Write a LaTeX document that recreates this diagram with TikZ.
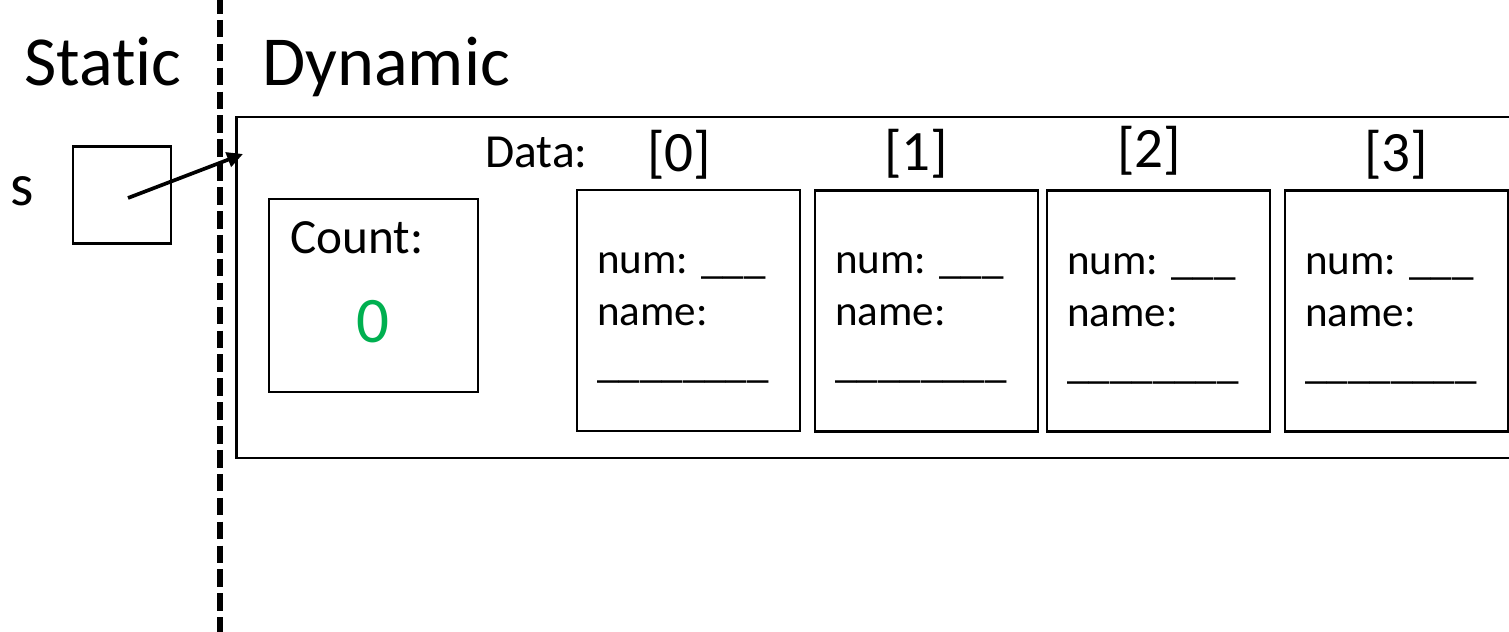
\documentclass[tikz,border=0pt]{standalone}
\usepackage{fontspec}
\setmainfont{Carlito}[Ligatures=NoCommon]
\usetikzlibrary{arrows.meta}

\definecolor{cntgreen}{HTML}{00B050}

\tikzset{
  box/.style={draw, line width=1.5pt, inner sep=0pt},
  cell/.style={box, minimum width=4.46cm, minimum height=4.82cm},
  fields/.style={align=left, inner sep=0pt, anchor=base west, font=\fontsize{24.5}{29.5}\selectfont},
  idx/.style={inner sep=0pt, font=\fontsize{32.5}{38}\selectfont},
}

\begin{document}
\begin{tikzpicture}[x=0.02cm, y=-0.02cm]
  \useasboundingbox (0,0) rectangle (1509,632);
  % static | dynamic split
  \draw[line width=2.9pt, dash pattern=on 10pt off 3.6pt] (220,-4) -- (220,632);
  \node[inner sep=0pt, anchor=base, font=\fontsize{40}{48}\selectfont] (static) at (103,85) {Static};
  \node[inner sep=0pt, anchor=base west, font=\fontsize{40}{48}\selectfont] (dynamic) at (262,85) {Dynamic};

  % pointer on the stack
  \node[inner sep=0pt, anchor=base, font=\fontsize{34}{40}\selectfont] (s) at (22,205) {s};
  \node[box, minimum width=1.96cm, minimum height=1.94cm] (ptr) at (122,195) {};

  % object on the heap
  \node[box, minimum width=26.1cm, minimum height=6.82cm] (heap) at (889,287.5) {};
  \coordinate (tip) at (243,154);
  \draw[-{Triangle[length=9pt,width=8.5pt]}, line width=2.1pt] ([shift={(6,3)}]ptr.center) -- (tip);

  \node[box, minimum width=4.18cm, minimum height=3.86cm] (count) at (373.5,295.5) {};
  \node[inner sep=0pt, anchor=base west, font=\fontsize{28}{34}\selectfont] (countlbl) at (290,253) {Count:};
  \node[inner sep=0pt, anchor=base, text=cntgreen, font=\fontsize{37}{44}\selectfont] (countval) at (373,342) {0};

  \node[inner sep=0pt, anchor=base west, font=\fontsize{27}{32}\selectfont] (data) at (485,167) {Data:};

  \node[cell] (c0) at (688.5,310.5) {};
  \node[cell] (c1) at (926.5,311) {};
  \node[cell] (c2) at (1158.5,311) {};
  \node[cell] (c3) at (1396.5,311) {};

  \node[idx] (i0) at (679,155) {[0]};
  \node[idx] (i1) at (916,154) {[1]};
  \node[idx] (i2) at (1149,151) {[2]};
  \node[idx] (i3) at (1396,155) {[3]};

  % base anchor sits on the last line
  \node[fields] (f0) at (597,377) {num: \_\_\_\\name:\\\_\_\_\_\_\_\_\_};
  \node[fields] (f1) at (835,377) {num: \_\_\_\\name:\\\_\_\_\_\_\_\_\_};
  \node[fields] (f2) at (1067,378) {num: \_\_\_\\name:\\\_\_\_\_\_\_\_\_};
  \node[fields] (f3) at (1305,378) {num: \_\_\_\\name:\\\_\_\_\_\_\_\_\_};
\end{tikzpicture}
\end{document}
